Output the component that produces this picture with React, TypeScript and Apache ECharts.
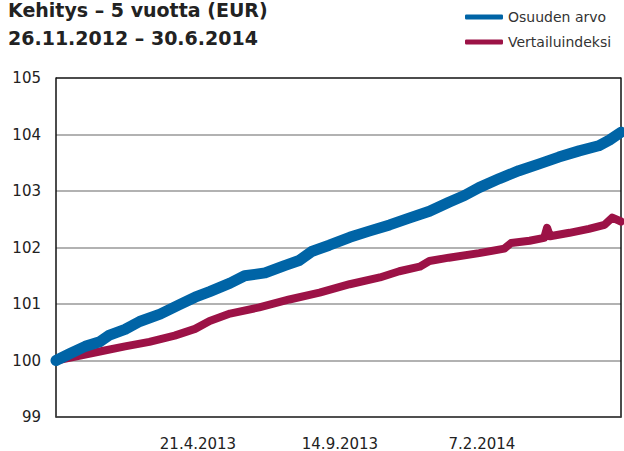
import React, { useEffect, useRef } from "react";
import * as echarts from "echarts";

// Days since 26.11.2012
const blueDays = [0, 14, 30, 45, 55, 71, 86, 107, 127, 143, 158, 179, 194, 215, 235, 250, 263, 281, 302, 322, 343, 363, 384, 404, 420, 435, 456, 476, 497, 517, 538, 558, 569, 581];
const blueValues = [100.0, 100.12, 100.25, 100.33, 100.45, 100.55, 100.69, 100.82, 100.99, 101.12, 101.22, 101.37, 101.5, 101.55, 101.68, 101.77, 101.93, 102.04, 102.18, 102.29, 102.4, 102.52, 102.64, 102.8, 102.92, 103.06, 103.22, 103.36, 103.48, 103.6, 103.71, 103.8, 103.9, 104.04];

const redDays = [0, 20, 45, 71, 96, 122, 143, 158, 179, 209, 240, 271, 302, 333, 353, 374, 384, 404, 435, 461, 468, 487, 502, 505, 508, 528, 548, 564, 572, 581];
const redValues = [100.0, 100.07, 100.16, 100.25, 100.33, 100.44, 100.56, 100.7, 100.83, 100.94, 101.08, 101.2, 101.35, 101.47, 101.58, 101.66, 101.76, 101.82, 101.9, 101.98, 102.08, 102.12, 102.17, 102.35, 102.2, 102.26, 102.33, 102.4, 102.53, 102.46];

const totalDays = 581;
const tickDays = [146, 292, 438];
const tickLabels = ["21.4.2013", "14.9.2013", "7.2.2014"];
const yMin = 99;
const yMax = 105;

const seriesNames = ["Osuuden arvo", "Vertailuindeksi"];
const titleLines = ["Kehitys \u2013 5 vuotta (EUR)", "26.11.2012 \u2013 30.6.2014"];

const BLUE = "#0064a6";
const RED = "#9c1246";
const FONT = "DejaVu Sans";

export default function App() {
  const ref = useRef<HTMLDivElement>(null);
  useEffect(() => {
    document.body.style.margin = "0";
    const chart = echarts.init(ref.current!, null, { renderer: "svg" });
    const blueData = blueDays.map((d, i) => [d, blueValues[i]]);
    const redData = redDays.map((d, i) => [d, redValues[i]]);
    chart.setOption({
      animation: false,
      backgroundColor: "#ffffff",
      textStyle: { fontFamily: FONT },
      graphic: [
        {
          type: "text",
          left: 8,
          top: 0,
          style: { text: titleLines[0], font: `bold 19px "${FONT}"`, fill: "#222" },
        },
        {
          type: "text",
          left: 8,
          top: 28,
          style: { text: titleLines[1], font: `bold 19px "${FONT}"`, fill: "#222" },
        },
      ],
      legend: {
        data: seriesNames,
        orient: "vertical",
        left: 465,
        top: 9,
        padding: 0,
        icon: "roundRect",
        itemWidth: 38,
        itemHeight: 5,
        itemGap: 9,
        textStyle: { fontFamily: FONT, fontSize: 14, color: "#333", lineHeight: 16 },
      },
      grid: { left: 56, right: 2, top: 78, bottom: 34, containLabel: false },
      xAxis: {
        type: "value",
        min: 0,
        max: totalDays,
        interval: 146,
        axisLine: { show: true, onZero: false, lineStyle: { color: "#444", width: 1.5 } },
        axisTick: { show: false },
        splitLine: { show: false },
        axisLabel: {
          margin: 19,
          fontFamily: FONT,
          fontSize: 15,
          color: "#222",
          formatter: (v: number) => {
            const i = tickDays.indexOf(v);
            return i >= 0 ? tickLabels[i] : "";
          },
        },
      },
      yAxis: [
        {
          type: "value",
          min: yMin,
          max: yMax,
          interval: 1,
          axisLine: { show: true, lineStyle: { color: "#111", width: 1.5 } },
          axisTick: { show: false },
          axisLabel: { margin: 15, fontFamily: FONT, fontSize: 15, color: "#222" },
          splitLine: {
            show: true,
            lineStyle: { color: ["#444", "#999", "#999", "#999", "#999", "#999", "#111"], width: 1.5 },
          },
        },
        {
          type: "value",
          position: "right",
          min: yMin,
          max: yMax,
          interval: 1,
          axisLine: { show: true, lineStyle: { color: "#111", width: 1.5 } },
          axisTick: { show: false },
          axisLabel: { show: false },
          splitLine: { show: false },
        },
      ],
      series: [
        {
          name: seriesNames[1],
          type: "line",
          data: redData,
          showSymbol: false,
          symbol: "none",
          color: RED,
          lineStyle: { color: RED, width: 8, cap: "round", join: "round" },
          z: 2,
        },
        {
          name: seriesNames[0],
          type: "line",
          data: blueData,
          showSymbol: false,
          symbol: "none",
          color: BLUE,
          lineStyle: { color: BLUE, width: 11, cap: "round", join: "round" },
          z: 3,
        },
      ],
    });
    return () => chart.dispose();
  }, []);
  return <div ref={ref} style={{ width: 624, height: 451 }} />;
}
